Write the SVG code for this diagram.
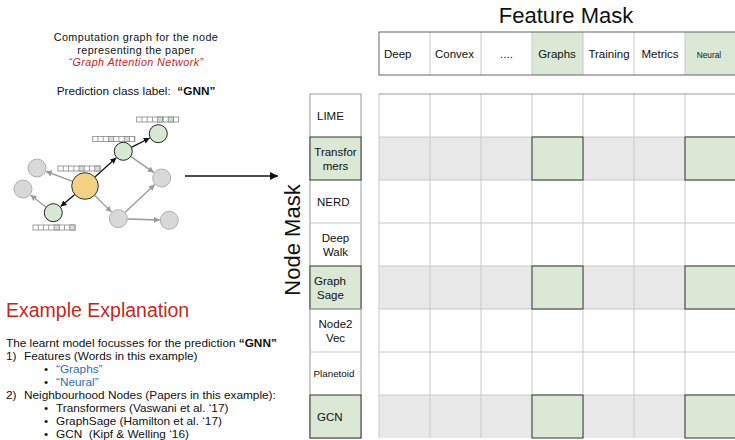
<svg xmlns="http://www.w3.org/2000/svg" width="735" height="440" viewBox="0 0 735 440">
<style>
text{font-family:"Liberation Sans",Arial,sans-serif;fill:#111}
.t11{font-size:11.8px}
.cap{font-size:10.8px;letter-spacing:0.4px}
.tc{font-size:11.5px}
.red{fill:#c4281c}
.blue{fill:#2f6fae}
.gnode{fill:#d8d8d8;stroke:#b0b0b0;stroke-width:1}
.green{fill:#d9e8d4;stroke:#222;stroke-width:1}
.orange{fill:#f3d184;stroke:#333;stroke-width:1}
.ba{stroke:#111;stroke-width:1.3;fill:none}
.ga{stroke:#999;stroke-width:1.3;fill:none}
.gcell{fill:#dae8d5;stroke:#333;stroke-width:1}
.grow{fill:#e8e8e8}
.gl{stroke:#c8c8c8;stroke-width:1}
.bar{fill:#fff;stroke:#888;stroke-width:0.8}
.barg{fill:#cfe3c8;stroke:#888;stroke-width:0.8}
</style>
<defs>
<marker id="ab" markerUnits="userSpaceOnUse" markerWidth="8" markerHeight="8" refX="6" refY="3" orient="auto"><path d="M0,0 L6,3 L0,6 z" fill="#111"/></marker>
<marker id="ag" markerUnits="userSpaceOnUse" markerWidth="8" markerHeight="8" refX="6" refY="3" orient="auto"><path d="M0,0 L6,3 L0,6 z" fill="#999"/></marker>
<marker id="big" markerUnits="userSpaceOnUse" markerWidth="10" markerHeight="10" refX="8" refY="4" orient="auto"><path d="M0,0 L8,4 L0,8 z" fill="#111"/></marker>
</defs>

<!-- top description -->
<g id="caption">
<text class="cap" x="136" y="41" text-anchor="middle">Computation graph for the node</text>
<text class="cap" x="136" y="53.5" text-anchor="middle">representing the paper</text>
<text class="cap red" x="136" y="66" text-anchor="middle" font-style="italic">“Graph Attention Network”</text>
<text class="t11" x="136" y="95" text-anchor="middle">Prediction class label:&#160; <tspan font-weight="bold">“GNN”</tspan></text>
</g>

<!-- connectors -->
<g id="connectors">
<line class="ba" x1="94.9" y1="177.1" x2="116.3" y2="157.7" marker-end="url(#ab)"/>
<line class="ba" x1="131.3" y1="147.3" x2="149.8" y2="138" marker-end="url(#ab)"/>
<line class="ba" x1="74.8" y1="194.6" x2="60.6" y2="206.6" marker-end="url(#ab)"/>
<line class="ga" x1="72.6" y1="181.3" x2="45.9" y2="171.3" marker-end="url(#ag)"/>
<line class="ga" x1="46.2" y1="207.2" x2="30.5" y2="194.9" marker-end="url(#ag)"/>
<line class="ga" x1="130.7" y1="156.4" x2="153.9" y2="172.6" marker-end="url(#ag)"/>
<line class="ga" x1="94.5" y1="195.3" x2="111.5" y2="212.1" marker-end="url(#ag)"/>
<line class="ga" x1="124.9" y1="212.5" x2="154.8" y2="184.5" marker-end="url(#ag)"/>
<line class="ga" x1="127.3" y1="219" x2="159.8" y2="220" marker-end="url(#ag)"/>
<line x1="185" y1="176" x2="278" y2="176" stroke="#111" stroke-width="1.3" marker-end="url(#big)"/>
</g>

<!-- graph nodes -->
<g id="n-gray-lu"><circle class="gnode" cx="37" cy="168" r="9"/></g>
<g id="n-gray-l"><circle class="gnode" cx="23" cy="189" r="9"/></g>
<g id="n-gray-rm"><circle class="gnode" cx="161.7" cy="178" r="9"/></g>
<g id="n-gray-bm"><circle class="gnode" cx="118.3" cy="218.7" r="9"/></g>
<g id="n-gray-br"><circle class="gnode" cx="169.3" cy="220.3" r="9"/></g>
<g id="n-target"><circle class="orange" cx="85" cy="186" r="13.3"/></g>
<g id="n-green-mid"><circle class="green" cx="123.3" cy="151.3" r="9"/></g>
<g id="n-green-top"><circle class="green" cx="158.3" cy="133.7" r="9"/></g>
<g id="n-green-bl"><circle class="green" cx="53.3" cy="212.7" r="9"/></g>

<!-- feature bars -->
<g id="bar-top">
<rect class="bar" x="136.7" y="117" width="42" height="5"/>
<rect class="barg" x="157.7" y="117" width="5.25" height="5"/>
<rect class="barg" x="168.2" y="117" width="5.25" height="5"/>
<path d="M141.95,117v5M147.2,117v5M152.45,117v5M162.95,117v5M173.45,117v5" stroke="#888" stroke-width="0.8"/>
</g>
<g id="bar-mid">
<rect class="bar" x="92.7" y="136.5" width="42" height="5"/>
<rect class="barg" x="108.45" y="136.5" width="5.25" height="5"/>
<rect class="barg" x="124.2" y="136.5" width="5.25" height="5"/>
<path d="M97.95,136.5v5M103.2,136.5v5M118.95,136.5v5M134.7,136.5v5" stroke="#888" stroke-width="0.8"/>
</g>
<g id="bar-target">
<rect class="bar" x="58" y="166" width="42" height="5"/>
<rect class="barg" x="79" y="166" width="5.25" height="5"/>
<rect class="barg" x="94.75" y="166" width="5.25" height="5"/>
<path d="M63.25,166v5M68.5,166v5M73.75,166v5M89.5,166v5" stroke="#888" stroke-width="0.8"/>
</g>
<g id="bar-bottom">
<rect class="bar" x="33" y="225" width="42" height="5"/>
<rect class="barg" x="54" y="225" width="5.25" height="5"/>
<rect class="barg" x="69.75" y="225" width="5.25" height="5"/>
<path d="M38.25,225v5M43.5,225v5M48.75,225v5M64.5,225v5" stroke="#888" stroke-width="0.8"/>
</g>

<!-- explanation text -->
<g id="explanation">
<text class="red" x="6" y="317" font-size="19.5">Example Explanation</text>
<text class="t11" x="6" y="346.5">The learnt model focusses for the prediction <tspan font-weight="bold">“GNN”</tspan></text>
<text class="t11" x="6" y="359.5">1)</text>
<text class="t11" x="24" y="359.5">Features (Words in this example)</text>
<text class="t11" x="44" y="372.5">•</text>
<text class="t11 blue" x="56" y="372.5">“Graphs”</text>
<text class="t11" x="44" y="385.5">•</text>
<text class="t11 blue" x="56" y="385.5">“Neural”</text>
<text class="t11" x="6" y="398.5">2)</text>
<text class="t11" x="24" y="398.5">Neighbourhood Nodes (Papers in this example):</text>
<text class="t11" x="44" y="411.5">•</text>
<text class="t11" x="56" y="411.5">Transformers (Vaswani et al. ‘17)</text>
<text class="t11" x="44" y="424.5">•</text>
<text class="t11" x="56" y="424.5">GraphSage (Hamilton et al. ‘17)</text>
<text class="t11" x="44" y="437.5">•</text>
<text class="t11" x="56" y="437.5">GCN&#160; (Kipf &amp; Welling ‘16)</text>
</g>

<!-- titles -->
<g id="title-feature"><text x="566" y="23" font-size="22" text-anchor="middle">Feature Mask</text></g>
<g id="title-node"><text transform="translate(300,240) rotate(-90)" font-size="22" text-anchor="middle">Node Mask</text></g>

<!-- header feature table -->
<g id="feature-header">
<rect x="379" y="32" width="357" height="43" fill="#fff"/>
<rect x="532" y="32" width="51" height="43" fill="#dae8d5"/>
<rect x="685" y="32" width="51" height="43" fill="#dae8d5"/>
<path class="gl" d="M430,32v43M481,32v43M532,32v43M583,32v43M634,32v43M685,32v43"/>
<rect x="379" y="32" width="357" height="43" fill="none" stroke="#666" stroke-width="1"/>
<text class="tc" x="384" y="58">Deep</text>
<text class="tc" x="435" y="58">Convex</text>
<text class="tc" x="506.5" y="58" text-anchor="middle">....</text>
<text class="tc" x="557" y="58" text-anchor="middle">Graphs</text>
<text class="tc" x="609" y="58" text-anchor="middle">Training</text>
<text class="tc" x="660" y="58" text-anchor="middle">Metrics</text>
<text x="709" y="57.5" font-size="8.3" text-anchor="middle">Neural</text>
</g>

<!-- node mask column -->
<g id="node-column">
<rect x="310" y="94" width="51" height="344" fill="#fff" stroke="#999" stroke-width="1"/>
<path class="gl" d="M310,223H361M310,352H361"/>
<rect class="gcell" x="310" y="137" width="51" height="43" stroke="#555"/>
<rect class="gcell" x="310" y="266" width="51" height="43" stroke="#aaa"/>
<rect class="gcell" x="310" y="395" width="51" height="43" stroke="#aaa"/>
<path d="M310,309H361" stroke="#ccc"/>
<text class="tc" x="317" y="120">LIME</text>
<text class="tc" x="335.5" y="155.5" text-anchor="middle">Transfor</text>
<text class="tc" x="335.5" y="169.5" text-anchor="middle">mers</text>
<text class="tc" x="317" y="206">NERD</text>
<text class="tc" x="335.5" y="241.5" text-anchor="middle">Deep</text>
<text class="tc" x="335.5" y="255.5" text-anchor="middle">Walk</text>
<text class="tc" x="314" y="284.5">Graph</text>
<text class="tc" x="317" y="298.5">Sage</text>
<text class="tc" x="335.5" y="327.5" text-anchor="middle">Node2</text>
<text class="tc" x="335.5" y="341.5" text-anchor="middle">Vec</text>
<text x="334" y="377" font-size="9.8" text-anchor="middle">Planetoid</text>
<text class="tc" x="317" y="420.5">GCN</text>
</g>

<!-- mask grid -->
<g id="mask-grid">
<rect x="379" y="94" width="357" height="344" fill="#fff"/>
<rect class="grow" x="379" y="137" width="357" height="43"/>
<rect class="grow" x="379" y="266" width="357" height="43"/>
<rect class="grow" x="379" y="395" width="357" height="43"/>
<path class="gl" d="M430,94v344M481,94v344M532,94v344M583,94v344M634,94v344M685,94v344M379,137H736M379,180H736M379,223H736M379,266H736M379,309H736M379,352H736M379,395H736M379,94v344"/>
<path d="M379,94H736" stroke="#999" stroke-width="1"/>
<rect class="gcell" x="532" y="137" width="51" height="43"/>
<rect class="gcell" x="685" y="137" width="51" height="43"/>
<rect class="gcell" x="532" y="266" width="51" height="43"/>
<rect class="gcell" x="685" y="266" width="51" height="43"/>
<rect class="gcell" x="532" y="395" width="51" height="43"/>
<rect class="gcell" x="685" y="395" width="51" height="43"/>
</g>
</svg>
